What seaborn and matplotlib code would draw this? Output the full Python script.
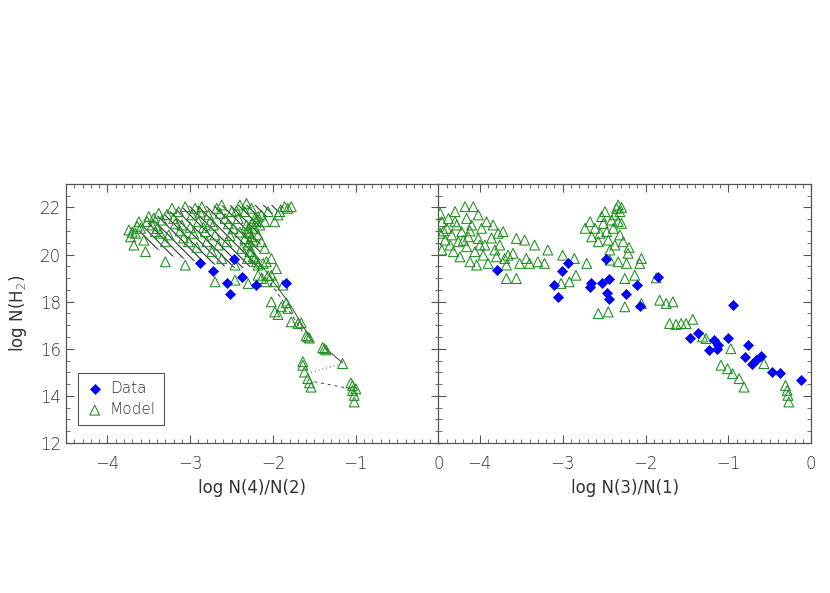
import numpy as np
import pandas as pd
import matplotlib
matplotlib.use("Agg")
import matplotlib.pyplot as plt
import seaborn as sns

# ---- observed data (diamonds) ----
data42_x = [-2.88, -2.47, -2.72, -2.56, -2.38, -2.52, -2.21, -1.84]
data42_y = [19.64, 19.80, 19.29, 18.81, 19.05, 18.31, 18.72, 18.81]

data31_x = [-3.79, -2.94, -3.01, -3.10, -3.06, -2.48, -2.66, -2.67, -2.53, -2.44,
            -2.47, -2.44, -2.23, -2.10, -2.07, -1.85, -0.94, -1.46, -1.37, -1.23,
            -1.17, -1.12, -1.14, -1.00, -0.76, -0.80, -0.71, -0.67, -0.61, -0.47,
            -0.38, -0.12]
data31_y = [19.33, 19.66, 19.29, 18.72, 18.18, 19.80, 18.81, 18.62, 18.81, 18.98,
            18.38, 18.10, 18.31, 18.72, 17.81, 19.05, 17.87, 16.47, 16.66, 15.94,
            16.35, 16.14, 16.00, 16.47, 16.14, 15.64, 15.36, 15.54, 15.71, 15.00,
            14.98, 14.69]

# ---- model grid (triangles) ----
model42_x = [-3.74, -3.72, -3.68, -3.66, -3.62, -3.60, -3.56, -3.54, -3.50, -3.46,
             -3.42, -3.38, -3.34, -3.30, -3.30, -3.26, -3.22, -3.20, -3.14, -3.10,
             -3.06, -3.06, -3.02, -2.98, -2.94, -2.90, -2.86, -2.82, -2.80, -2.78,
             -2.76, -2.74, -2.70, -2.68, -2.62, -2.62, -2.58, -2.56, -2.50, -2.48,
             -2.46, -2.42, -2.40, -2.38, -2.34, -2.32, -2.26, -2.30, -2.28, -2.26,
             -2.22, -2.20, -2.18, -2.14, -2.12, -2.10, -2.06, -2.02, -1.98, -1.94,
             -1.92, -1.86, -1.82, -1.78, -2.02, -2.18, -2.10, -1.98, -2.70, -2.46,
             -2.30, -2.14, -2.02, -1.98, -1.90, -1.82, -1.78, -1.70, -1.58, -1.38,
             -1.16, -1.64, -1.62, -1.58, -1.54, -1.04, -1.04, -1.02, -1.02,
             -2.32, -2.30, -2.28, -2.26, -2.24, -2.30, -2.28, -2.24, -2.20, -2.18,
             -2.16, -2.22, -2.26, -2.22, -2.18, -2.14, -2.10, -2.08, -2.34, -2.31,
             -3.70, -3.64, -3.52, -3.44, -3.40, -3.36, -3.28, -3.18, -3.12, -3.08,
             -3.00, -2.96, -2.92, -2.88, -2.84, -2.72, -2.66, -2.64, -2.54, -2.52,
             -2.44, -2.40, -1.96, -2.06, -1.88, -1.84, -1.94, -1.66, -1.60, -1.56,
             -1.40, -1.36, -1.64, -1.56, -1.06, -1.00]
model42_y = [21.04, 20.75, 20.40, 20.90, 21.39, 21.11, 20.61, 20.12, 21.61, 21.25,
             20.97, 21.75, 21.46, 20.54, 19.69, 20.83, 21.96, 21.53, 21.82, 21.25,
             22.03, 19.55, 20.54, 21.68, 21.96, 21.39, 22.03, 20.97, 20.54, 21.68,
             21.39, 20.12, 20.83, 21.96, 22.10, 19.83, 21.53, 20.54, 21.82, 21.11,
             19.55, 21.53, 22.10, 20.26, 21.82, 22.17, 21.96, 20.97, 20.54, 20.12,
             19.83, 21.39, 20.83, 21.68, 19.62, 21.39, 21.82, 19.83, 21.39, 21.68,
             21.82, 22.03, 21.96, 22.03, 19.12, 19.12, 18.84, 18.84, 18.84, 18.91,
             18.77, 18.98, 17.99, 17.56, 17.78, 17.71, 17.14, 17.07, 16.50, 16.00,
             15.37, 15.30, 15.01, 14.73, 14.37, 14.44, 14.23, 14.02, 13.74,
             21.25, 21.11, 20.90, 20.75, 20.61, 20.40, 20.12, 19.90, 19.69, 19.55,
             21.25, 21.11, 21.32, 21.53, 21.61, 20.54, 20.26, 19.69, 20.68, 19.83,
             20.95, 21.20, 21.40, 21.55, 21.10, 20.90, 21.70, 21.30, 21.00, 20.70,
             21.15, 20.90, 20.30, 21.80, 21.15, 21.25, 20.40, 21.75, 21.30, 20.80,
             21.85, 20.95, 19.40, 19.10, 18.70, 17.95, 17.45, 17.10, 16.55, 16.45,
             16.05, 15.95, 15.45, 14.55, 14.55, 14.30]

model31_x = [-4.48, -4.46, -4.48, -4.46, -4.42, -4.40, -4.38, -4.34, -4.32, -4.30,
             -4.28, -4.26, -4.24, -4.22, -4.18, -4.16, -4.16, -4.14, -4.12, -4.10,
             -4.08, -4.06, -4.04, -4.02, -4.02, -3.98, -3.96, -3.94, -3.92, -3.90,
             -3.84, -3.82, -3.80, -3.78, -3.76, -3.72, -3.70, -3.68, -3.66, -3.60,
             -3.56, -3.52, -3.46, -3.44, -3.40, -3.34, -3.30, -3.22, -3.18, -3.68,
             -3.56, -3.00, -2.86, -2.71, -2.57, -2.45, -3.02, -2.92, -2.84,
             -2.73, -2.67, -2.65, -2.61, -2.57, -2.53, -2.51, -2.49, -2.47, -2.45,
             -2.43, -2.41, -2.39, -2.37, -2.35, -2.33, -2.31, -2.31, -2.29, -2.27,
             -2.21, -2.23, -2.33, -2.43, -2.13, -2.05, -2.07, -2.25, -2.25, -2.05,
             -1.87, -1.83, -1.75, -1.67, -1.71, -1.63, -1.57, -1.51, -1.43, -1.31,
             -1.27, -1.09, -1.01, -0.95, -0.87, -0.81, -0.97, -0.57, -0.31, -0.29,
             -0.28, -0.27,
             -4.44, -4.36, -4.30, -4.20, -4.12, -4.00, -3.86, -2.55, -2.37, -2.29,
             -2.33, -2.20]
model31_y = [21.75, 21.39, 20.90, 20.19, 20.61, 21.11, 21.53, 20.83, 20.12, 21.82,
             21.25, 20.54, 19.90, 20.97, 22.03, 21.53, 20.33, 20.75, 19.69, 21.25,
             22.03, 20.12, 19.55, 21.68, 20.68, 21.11, 19.97, 20.40, 21.39, 19.62,
             21.25, 20.19, 19.90, 20.90, 20.40, 20.97, 19.83, 19.55, 19.97, 20.05,
             20.68, 19.62, 20.61, 19.83, 19.62, 20.40, 19.69, 19.62, 20.19, 18.98,
             18.98, 19.97, 19.83, 19.62, 17.49, 17.56, 18.77, 18.84, 19.12,
             21.11, 21.39, 20.75, 21.11, 20.54, 21.61, 21.32, 21.82, 20.97, 20.61,
             20.19, 21.46, 21.11, 21.68, 21.96, 22.10, 21.82, 20.83, 21.32, 20.54,
             20.05, 19.62, 19.69, 19.76, 19.12, 19.83, 19.62, 18.98, 17.78, 17.92,
             19.01, 18.06, 17.92, 17.99, 17.07, 17.03, 17.07, 17.07, 17.25, 16.50,
             16.43, 15.30, 15.15, 14.94, 14.73, 14.37, 16.00, 15.37, 14.44, 14.23,
             14.02, 13.74,
             21.00, 20.40, 21.40, 20.60, 21.00, 20.40, 20.70, 20.90, 20.40, 22.00,
             21.40, 20.30]

# ---- model tracks joining grid points (left panel) ----
band_x = [-3.62, -3.40, -3.05, -2.40, -1.80, -1.95, -2.15, -2.15, -2.40, -2.85, -3.25, -3.55]
band_y = [21.00, 21.65, 22.05, 22.10, 22.10, 21.80, 21.50, 19.55, 19.40, 19.65, 19.95, 20.50]

tracks = [
    ([-2.30, -1.95, -1.62], [19.90, 18.40, 16.60], (0, (4, 3))),
    ([-2.15, -1.80, -1.56], [19.60, 17.90, 16.50], "-"),
    ([-1.36, -1.16], [16.00, 15.40], "-"),
    ([-1.54, -1.18], [15.00, 15.35], (0, (1, 3))),
    ([-1.50, -1.06], [14.60, 14.30], (0, (3, 4))),
]

xticks = [-4, -3, -2, -1, 0]
yticks = [12, 14, 16, 18, 20, 22]

sns.set_style("ticks")
plt.rcParams['font.family'] = ['DejaVu Sans']
plt.rcParams['font.weight'] = 'light'
plt.rcParams['hatch.linewidth'] = 0.8
plt.rcParams['axes.edgecolor'] = '#555555'
plt.rcParams['text.color'] = '#333333'
plt.rcParams['axes.labelcolor'] = '#333333'
plt.rcParams['xtick.color'] = '#555555'
plt.rcParams['ytick.color'] = '#555555'
plt.rcParams['xtick.labelcolor'] = '#333333'
plt.rcParams['ytick.labelcolor'] = '#333333'

BLUE = '#0000ff'
GREEN = '#1a8f1a'

fig = plt.figure(figsize=(8.3, 5.93), dpi=100)
ax1 = fig.add_axes([0.0795, 0.253, 0.449, 0.437])
ax2 = fig.add_axes([0.5283, 0.253, 0.449, 0.437])

# left panel
ax1.fill(band_x, band_y, facecolor='none', edgecolor='#333333', linewidth=0,
         hatch='\\\\\\\\', zorder=1)
for tx, ty, ls in tracks:
    ax1.plot(tx, ty, color='#444444', lw=0.7, ls=ls, zorder=1)

m42 = pd.DataFrame({'x': model42_x, 'y': model42_y})
d42 = pd.DataFrame({'x': data42_x, 'y': data42_y})
sns.scatterplot(data=d42, x='x', y='y', marker='D', s=26, color=BLUE,
                edgecolor=BLUE, linewidth=0.5, ax=ax1, zorder=4, label='Data')
sns.scatterplot(data=m42, x='x', y='y', marker='^', s=50, facecolor='none',
                edgecolor=GREEN, linewidth=0.75, ax=ax1, zorder=3, label='Model')

# right panel
m31 = pd.DataFrame({'x': model31_x, 'y': model31_y})
d31 = pd.DataFrame({'x': data31_x, 'y': data31_y})
sns.scatterplot(data=m31, x='x', y='y', marker='^', s=50, facecolor='none',
                edgecolor=GREEN, linewidth=0.75, ax=ax2, zorder=3, legend=False)
sns.scatterplot(data=d31, x='x', y='y', marker='D', s=26, color=BLUE,
                edgecolor=BLUE, linewidth=0.5, ax=ax2, zorder=4, legend=False)

for ax in (ax1, ax2):
    ax.set_xlim(-4.5, 0)
    ax.set_ylim(12, 23)
    ax.set_xticks(xticks)
    ax.set_yticks(yticks)
    ax.set_xticks(np.arange(-4.5, 0.001, 0.1), minor=True)
    ax.set_yticks(np.arange(12, 23.001, 0.5), minor=True)
    ax.tick_params(which='both', direction='in', top=True, right=True, labelsize=12)
    ax.tick_params(which='major', length=6, width=0.8)
    ax.tick_params(which='minor', length=3, width=0.6)
    ax.tick_params(axis='x', pad=9)
    for sp in ax.spines.values():
        sp.set_linewidth(0.9)

ax1.set_xlabel('log N(4)/N(2)', fontsize=12, labelpad=4)
ax2.set_xlabel('log N(3)/N(1)', fontsize=12, labelpad=4)
ax1.set_ylabel('log N(H$_2$)', fontsize=12, labelpad=8)
ax2.set_ylabel('')
ax2.tick_params(axis='y', labelleft=False)

leg = ax1.legend(loc='lower left', bbox_to_anchor=(0.032, 0.07), borderaxespad=0,
                 fancybox=False, edgecolor='#555555', fontsize=11,
                 handletextpad=0.4, borderpad=0.5, labelspacing=0.4,
                 handlelength=1.2)
leg.get_frame().set_linewidth(0.8)
leg.get_frame().set_alpha(1)

fig.savefig('out.png', dpi=100)
